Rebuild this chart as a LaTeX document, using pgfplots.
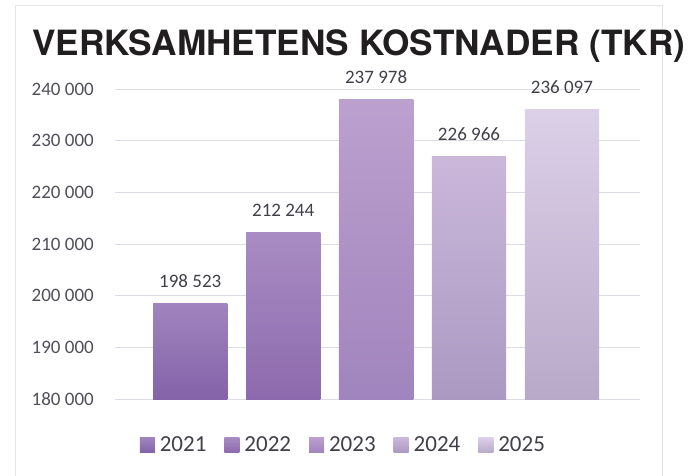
\documentclass[border=0pt]{standalone}
\usepackage{pgfplots}
\pgfplotsset{compat=1.18}
\usepackage{fontspec}
\usepackage{graphicx}
\setmainfont{Carlito}
\newfontfamily\titlefont{TeX Gyre Heros}
\definecolor{c1t}{HTML}{A084BE}
\definecolor{c1b}{HTML}{8463A9}
\definecolor{c2t}{HTML}{A98CC3}
\definecolor{c2b}{HTML}{8D6AAD}
\definecolor{c3t}{HTML}{BCA0CE}
\definecolor{c3b}{HTML}{A084BD}
\definecolor{c4t}{HTML}{CAB7DA}
\definecolor{c4b}{HTML}{AB99C2}
\definecolor{c5t}{HTML}{DCD0E8}
\definecolor{c5b}{HTML}{B9A9C9}
\definecolor{gridc}{HTML}{DCDBE6}
\definecolor{framec}{HTML}{E4E4EA}
\definecolor{tickc}{HTML}{4F4F59}
\definecolor{labc}{HTML}{404048}
\definecolor{titlec}{HTML}{211E20}
\pgfplotsset{
  mybar/.style={ybar, bar width=0.8, bar shift=0pt, draw=none,
    legend image code/.code={\path[##1,draw=none] (0pt,-7.5pt) rectangle (15pt,7.5pt);}},
}
\begin{document}
\begin{tikzpicture}
\draw[framec, line width=1pt] (-99.5pt,-80pt) -- (-99.5pt,393pt) -- (547pt,393pt) -- (547pt,-80pt);
\node[anchor=base west, inner sep=0pt, text=titlec] at (-83pt,344pt)
  {\resizebox{653pt}{\height}{\titlefont\bfseries\fontsize{34.8}{40}\selectfont VERKSAMHETENS KOSTNADER (TKR)}};
\begin{axis}[
  scale only axis, width=525pt, height=310pt,
  xmin=-0.81, xmax=4.84, ymin=180000, ymax=240000,
  clip=false,
  axis line style={draw=none},
  xtick=\empty,
  ytick={180000,190000,200000,210000,220000,230000,240000},
  yticklabels={180 000,190 000,200 000,210 000,220 000,230 000,240 000},
  scaled y ticks=false,
  ymajorgrids, major grid style={gridc, line width=0.8pt},
  major tick length=0pt,
  yticklabel style={font=\fontsize{19}{22}\selectfont, text=tickc, inner sep=0pt, anchor=east, xshift=-21pt},
  legend columns=5,
  legend style={draw=none, fill=none, at={(0.435,-0.148)}, anchor=center,
    font=\fontsize{23}{26}\selectfont, text=labc,
    /tikz/every odd column/.append style={column sep=3pt},
    /tikz/every even column/.append style={column sep=16pt},
    cells={anchor=west}},
]
\addplot[mybar, top color=c1t, bottom color=c1b] coordinates {(0,198523)};
\addlegendentry{2021}
\addplot[mybar, top color=c2t, bottom color=c2b] coordinates {(1,212244)};
\addlegendentry{2022}
\addplot[mybar, top color=c3t, bottom color=c3b] coordinates {(2,237978)};
\addlegendentry{2023}
\addplot[mybar, top color=c4t, bottom color=c4b] coordinates {(3,226966)};
\addlegendentry{2024}
\addplot[mybar, top color=c5t, bottom color=c5b] coordinates {(4,236097)};
\addlegendentry{2025}
\addplot[ybar, bar width=0.8, bar shift=0pt, draw=none, fill=none, forget plot,
  nodes near coords={\pgfmathprintnumber[fixed, precision=0, 1000 sep={\ }, assume math mode=true]{\pgfplotspointmeta}},
  every node near coord/.append style={font=\fontsize{19}{22}\selectfont, text=labc, anchor=south, inner sep=0pt, yshift=15.5pt}]
  coordinates {(0,198523) (1,212244) (2,237978) (3,226966) (4,236097)};
\end{axis}
\pgfresetboundingbox
\path[use as bounding box] (-115pt,-76pt) rectangle (578pt,399pt);
\end{tikzpicture}
\end{document}
